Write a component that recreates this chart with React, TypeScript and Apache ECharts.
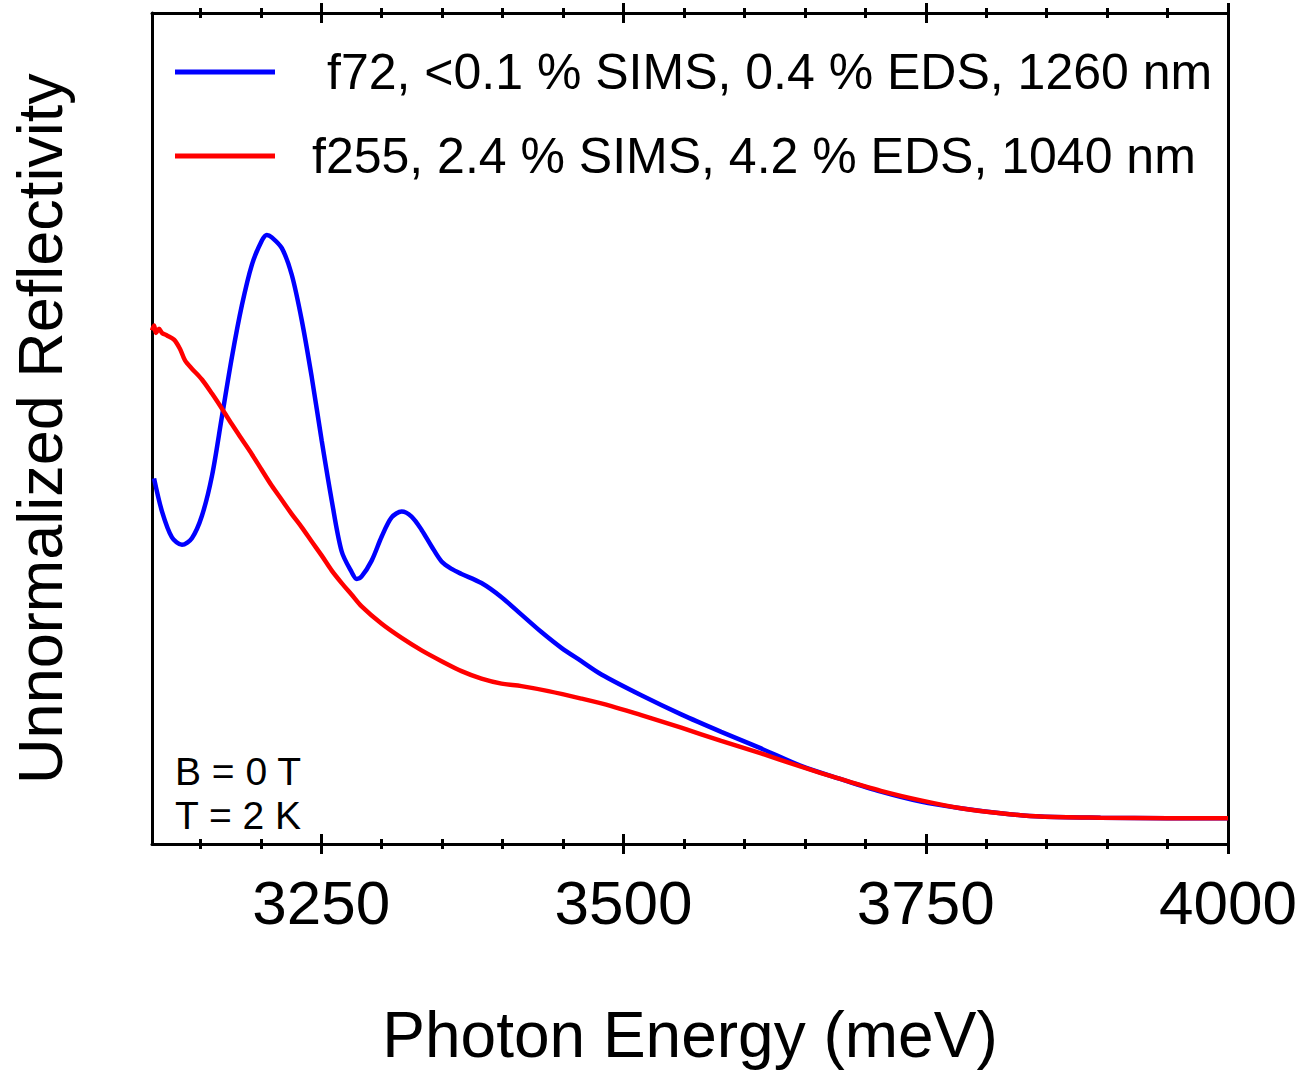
import React, { useEffect, useRef } from "react";
import * as echarts from "echarts";

const FONT = '"Liberation Sans", Arial, Helvetica, sans-serif';

const X_MIN = 3110;
const X_MAX = 4000;
const majorTicks = [3250, 3500, 3750, 4000];
const minorTicks = [3150, 3200, 3300, 3350, 3400, 3450, 3550, 3600, 3650, 3700, 3800, 3850, 3900, 3950];

const seriesNames = [
  "f72, <0.1 % SIMS, 0.4 % EDS, 1260 nm",
  "f255, 2.4 % SIMS, 4.2 % EDS, 1040 nm",
];

const blueEnergy = [
  3111.7, 3118.3, 3126.5, 3134.8, 3143.0, 3151.3, 3159.6, 3167.8, 3176.1, 3184.3,
  3192.6, 3200.8, 3205.0, 3209.1, 3217.4, 3225.6, 3233.9, 3242.1, 3250.4, 3258.7,
  3266.9, 3275.2, 3279.3, 3283.4, 3291.7, 3300.0, 3308.2, 3316.5, 3324.7, 3333.0,
  3341.3, 3349.5, 3357.8, 3366.0, 3382.5, 3399.1, 3415.6, 3432.1, 3448.6, 3465.1,
  3481.7, 3514.7, 3547.7, 3580.8, 3613.8, 3646.8, 3679.9, 3712.9, 3745.9, 3779.0,
  3812.0, 3845.1, 3894.6, 3950, 4000,
];
const blueValue = [
  44.0, 40.0, 36.9, 36.0, 36.8, 39.5, 44.3, 51.4, 58.6, 64.8,
  69.7, 72.6, 73.3, 73.0, 71.7, 68.5, 63.0, 56.2, 48.5, 41.3,
  35.2, 32.7, 31.9, 32.2, 34.1, 37.0, 39.3, 40.0, 39.4, 37.8,
  35.8, 34.0, 33.1, 32.5, 31.4, 29.7, 27.6, 25.5, 23.6, 22.0,
  20.4, 17.9, 15.6, 13.5, 11.5, 9.4, 7.8, 6.3, 5.1, 4.3,
  3.7, 3.3, 3.16, 3.1, 3.1,
];

const redEnergy = [
  3110, 3111.7, 3113.3, 3115.8, 3118.3, 3122.4, 3128.2, 3133.1, 3137.3, 3143.0,
  3151.3, 3159.6, 3167.8, 3176.1, 3184.3, 3192.6, 3200.8, 3209.1, 3217.4, 3225.6,
  3233.9, 3242.1, 3250.4, 3258.7, 3266.9, 3275.2, 3283.4, 3300.0, 3316.5, 3333.0,
  3349.5, 3366.0, 3382.5, 3399.1, 3415.6, 3437.9, 3465.1, 3489.9, 3514.7, 3547.7,
  3580.8, 3613.8, 3646.8, 3679.9, 3712.9, 3745.9, 3779.0, 3812.0, 3845.1, 3894.6,
  3950, 4000,
];
const redValue = [
  61.8, 62.4, 61.5, 62.0, 61.5, 61.2, 60.7, 59.6, 58.2, 57.2,
  55.9, 54.2, 52.4, 50.5, 48.7, 46.9, 45.0, 43.1, 41.4, 39.7,
  38.1, 36.4, 34.7, 32.9, 31.4, 30.0, 28.6, 26.5, 24.8, 23.3,
  22.0, 20.8, 19.9, 19.3, 19.0, 18.4, 17.5, 16.6, 15.5, 14.0,
  12.4, 10.9, 9.3, 7.8, 6.4, 5.25, 4.3, 3.7, 3.3, 3.16,
  3.1, 3.1,
];

const annotation = "B = 0 T\nT = 2 K";

function zip(xs: number[], ys: number[]) {
  return xs.map((x, i) => [x, ys[i]]);
}

function tickAxis(position: string, values: number[], len: number, inside: boolean, extra: any = {}) {
  return {
    type: "value",
    position,
    min: X_MIN,
    max: X_MAX,
    axisLine: { show: false, onZero: false },
    axisTick: {
      show: true,
      customValues: values,
      length: len,
      inside,
      lineStyle: { color: "#000", width: 3 },
    },
    axisLabel: { show: false },
    splitLine: { show: false },
    ...extra,
  };
}

export default function App() {
  const ref = useRef<HTMLDivElement>(null);
  useEffect(() => {
    document.documentElement.style.overflow = "hidden";
    document.body.style.overflow = "hidden";
    document.body.style.margin = "0";
    const chart = echarts.init(ref.current!, null, { renderer: "svg", width: 1303, height: 1072 });
    const option: any = {
      animation: false,
      backgroundColor: "#fff",
      grid: { left: 150, right: 75, top: 13, bottom: 221, containLabel: false },
      xAxis: [
        {
          type: "value",
          position: "bottom",
          min: X_MIN,
          max: X_MAX,
          name: "Photon Energy (meV)",
          nameLocation: "middle",
          nameGap: 159,
          nameTextStyle: { fontFamily: FONT, fontSize: 64, color: "#000" },
          axisLine: { show: true, onZero: false, lineStyle: { color: "#000", width: 3 } },
          axisTick: {
            show: true,
            customValues: majorTicks,
            length: 10,
            inside: false,
            lineStyle: { color: "#000", width: 3 },
          },
          axisLabel: {
            show: true,
            customValues: majorTicks,
            margin: 27,
            fontFamily: FONT,
            fontSize: 62,
            color: "#000",
            formatter: (v: number) => String(v),
          },
          splitLine: { show: false },
        },
        tickAxis("bottom", majorTicks, 10, true),
        tickAxis("bottom", minorTicks, 5, false),
        tickAxis("bottom", minorTicks, 5, true),
        tickAxis("top", majorTicks, 10, false, {
          axisLine: { show: true, onZero: false, lineStyle: { color: "#000", width: 3 } },
        }),
        tickAxis("top", majorTicks, 10, true),
        tickAxis("top", minorTicks, 5, false),
        tickAxis("top", minorTicks, 5, true),
      ],
      yAxis: [
        {
          type: "value",
          position: "left",
          min: 0,
          max: 100,
          name: "Unnormalized Reflectivity",
          nameLocation: "middle",
          nameGap: 81,
          nameTextStyle: { fontFamily: FONT, fontSize: 63, color: "#000" },
          axisLine: { show: true, onZero: false, lineStyle: { color: "#000", width: 3 } },
          axisTick: { show: false },
          axisLabel: { show: false },
          splitLine: { show: false },
        },
        {
          type: "value",
          position: "right",
          min: 0,
          max: 100,
          axisLine: { show: true, onZero: false, lineStyle: { color: "#000", width: 3 } },
          axisTick: { show: false },
          axisLabel: { show: false },
          splitLine: { show: false },
        },
      ],
      legend: {
        orient: "vertical",
        left: 175,
        top: 47,
        padding: 0,
        icon: "rect",
        itemWidth: 100,
        itemHeight: 5,
        itemGap: 34,
        textStyle: {
          fontFamily: FONT,
          fontSize: 50,
          lineHeight: 50,
          color: "#000",
          padding: [0, 0, 0, 32],
        },
        data: [
          { name: seriesNames[0], textStyle: { padding: [0, 0, 0, 47] } },
          { name: seriesNames[1] },
        ],
      },
      graphic: [
        {
          type: "text",
          left: 175,
          top: 749,
          style: {
            text: annotation,
            font: `39px ${FONT}`,
            lineHeight: 44,
            fill: "#000",
          },
        },
      ],
      series: [
        {
          name: seriesNames[0],
          type: "line",
          data: zip(blueEnergy, blueValue),
          showSymbol: false,
          smooth: 0.3,
          color: "#0000ff",
          lineStyle: { color: "#0000ff", width: 4.5 },
        },
        {
          name: seriesNames[1],
          type: "line",
          data: zip(redEnergy, redValue),
          showSymbol: false,
          smooth: 0.3,
          color: "#ff0000",
          lineStyle: { color: "#ff0000", width: 4.5 },
        },
      ],
    };
    chart.setOption(option);
    return () => chart.dispose();
  }, []);
  return (
    <div
      ref={ref}
      style={{ position: "absolute", left: 0, top: 0, width: 1303, height: 1072, background: "#fff" }}
    />
  );
}
